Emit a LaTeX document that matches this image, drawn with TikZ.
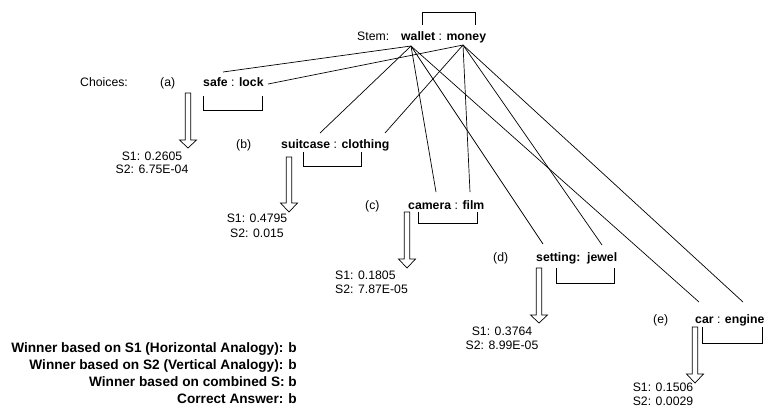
\documentclass[tikz,border=0pt]{standalone}
\usepackage{fontspec}
\setmainfont{Liberation Sans}
\newcommand\hollowarrow[4]{%
  \draw[line width=0.7bp] (#1-2.8,#2) -- (#1-2.8,#3) -- (#1-8.5,#3) -- (#1,#4) -- (#1+8.5,#3) -- (#1+2.8,#3) -- (#1+2.8,#2) -- cycle;}
\begin{document}
\begin{tikzpicture}[x=1bp,y=-1bp,
  txt/.style={font=\fontsize{12.3}{14}\selectfont, inner sep=0pt, anchor=base west},
  score/.style={font=\fontsize{12.3}{14}\selectfont, inner sep=0pt, anchor=base},
  winner/.style={font=\fontsize{13.7}{15}\selectfont\bfseries, inner sep=0pt, anchor=base east},
  link/.style={line width=0.7bp},
  brk/.style={line width=0.7bp}]
\useasboundingbox (0,0) rectangle (764,407);
% stem
\node[txt] (stemlbl) at (357,40) {Stem:};
\node[txt] (stem) at (401,40) {\textbf{wallet} : \textbf{money}};
\draw[brk] (422,25) -- (422,12) -- (475,12) -- (475,25);
\coordinate (w) at (411,46);
\coordinate (m) at (463,45);
% choices
\node[txt] (chl) at (80,86) {Choices:};
\node[txt] (la) at (160,86) {(a)};
\node[txt] (ca) at (203,86) {\textbf{safe} : \textbf{lock}};
\node[txt] (lb) at (236,148) {(b)};
\node[txt] (cb) at (281,148) {\textbf{suitcase} : \textbf{clothing}};
\node[txt] (lc) at (365,209) {(c)};
\node[txt] (cc) at (408,209) {\textbf{camera} : \textbf{film}};
\node[txt] (ld) at (493,261) {(d)};
\node[txt] (cd) at (536,261) {\textbf{setting:}\hspace{0.55em}\textbf{jewel}};
\node[txt] (le) at (653,323) {(e)};
\node[txt] (ce) at (695,323) {\textbf{car} : \textbf{engine}};
% brackets
\draw[brk] (203,96) -- (203,110) -- (262,110) -- (262,96);
\draw[brk] (303,152) -- (303,166) -- (361,166) -- (361,152);
\draw[brk] (418,212) -- (418,223) -- (477,223) -- (477,212);
\draw[brk] (556,268) -- (556,283) -- (614,283) -- (614,268);
\draw[brk] (702,327) -- (702,343) -- (762,343) -- (762,327);
% link end points
\coordinate (pa1) at (223,72);
\coordinate (pa2) at (268,84);
\coordinate (pb1) at (320,133);
\coordinate (pb2) at (385,133);
\coordinate (pc1) at (436,192);
\coordinate (pc2) at (470,192);
\coordinate (pd1) at (543,244);
\coordinate (pd2) at (602,245);
\coordinate (pe1) at (699,302);
\coordinate (pe2) at (743,302);
\foreach \p in {pa1,pb1,pc1,pd1,pe1} \draw[link] (w) -- (\p);
\foreach \p in {pa2,pb2,pc2,pd2,pe2} \draw[link] (m) -- (\p);
% arrows
\hollowarrow{188}{93}{140}{148}
\hollowarrow{289}{157}{203}{212}
\hollowarrow{407}{212}{259}{268}
\hollowarrow{539}{268}{315}{323}
\hollowarrow{695}{327}{374}{383}
% scores
\node[score] (sa1) at (152,160.5) {S1: 0.2605};
\node[score] (sa2) at (152,173) {S2: 6.75E-04};
\node[score] (sb1) at (257,222) {S1: 0.4795};
\node[score] (sb2) at (257,237) {S2: 0.015};
\node[txt] (sc1) at (335,279.5) {S1: 0.1805};
\node[txt] (sc2) at (335,293.5) {S2: 7.87E-05};
\node[score] (sd1) at (502,335.5) {S1: 0.3764};
\node[score] (sd2) at (502,349.5) {S2: 8.99E-05};
\node[score] (se1) at (663,391.5) {S1: 0.1506};
\node[score] (se2) at (663,405) {S2: 0.0029};
% winners
\node[winner] (w1) at (297,352) {Winner based on S1 (Horizontal Analogy): b};
\node[winner] (w2) at (297,369) {Winner based on S2 (Vertical Analogy): b};
\node[winner] (w3) at (297,386) {Winner based on combined S: b};
\node[winner] (w4) at (297,403) {Correct Answer: b};
\end{tikzpicture}
\end{document}
